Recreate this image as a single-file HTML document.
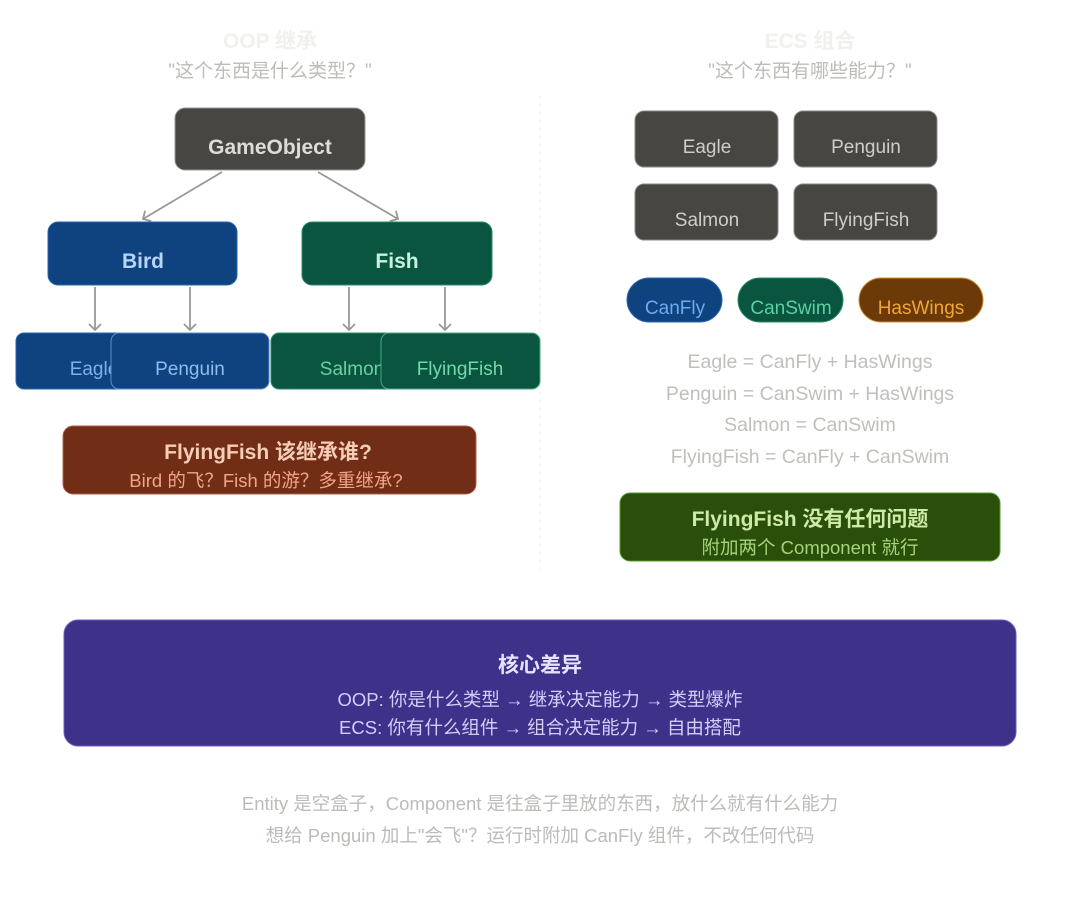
<!DOCTYPE html>
<html><head><meta charset="utf-8"><style>
html,body{margin:0;padding:0;background:#fff;width:1080px;height:921px;overflow:hidden}
svg{display:block}
text{font-family:"Liberation Sans","Noto Sans CJK SC",sans-serif;text-anchor:middle}
</style></head><body>
<svg width="1080" height="921" viewBox="0 0 1080 921">
<defs><marker id="a" markerWidth="14" markerHeight="14" refX="7" refY="7" orient="auto" markerUnits="userSpaceOnUse"><path d="M1,1 L7,7 L1,13" fill="none" stroke="#999893" stroke-width="1.8"/></marker></defs>
<text x="270" y="48" font-size="21" font-weight="bold" fill="#f0f0ec">OOP 继承</text>
<text x="270" y="77" font-size="19" fill="#bdbcb7">"这个东西是什么类型？"</text>
<text x="810" y="48" font-size="21" font-weight="bold" fill="#f0f0ec">ECS 组合</text>
<text x="810" y="77" font-size="19" fill="#bdbcb7">"这个东西有哪些能力？"</text>
<line x1="540" y1="95" x2="540" y2="570" stroke="#f0f0ee" stroke-dasharray="4 4"/>
<rect x="175" y="108" width="190" height="62" rx="10" fill="#474643" stroke="#9a9893"/>
<text x="270" y="154" font-size="21" font-weight="bold" fill="#dddcd6">GameObject</text>
<g stroke="#999893" stroke-width="1.8" fill="none">
<line x1="222" y1="172" x2="143" y2="219" marker-end="url(#a)"/>
<line x1="318" y1="172" x2="398" y2="219" marker-end="url(#a)"/>
<line x1="95" y1="287" x2="95" y2="330" marker-end="url(#a)"/>
<line x1="190" y1="287" x2="190" y2="330" marker-end="url(#a)"/>
<line x1="349" y1="287" x2="349" y2="330" marker-end="url(#a)"/>
<line x1="445" y1="287" x2="445" y2="330" marker-end="url(#a)"/>
</g>
<rect x="48" y="222" width="189" height="63" rx="10" fill="#0e437f" stroke="#2a66b0"/>
<text x="143" y="268" font-size="21" font-weight="bold" fill="#b8d4f6">Bird</text>
<rect x="302" y="222" width="190" height="63" rx="10" fill="#0a5540" stroke="#2a8a68"/>
<text x="397" y="268" font-size="21" font-weight="bold" fill="#c6f2de">Fish</text>
<rect x="16" y="333" width="156" height="56" rx="8" fill="#0e437f" stroke="#2a66b0"/>
<text x="94" y="375" font-size="19" fill="#7fb0ea">Eagle</text>
<rect x="111" y="333" width="158" height="56" rx="8" fill="#0e437f" stroke="#5a8ccc"/>
<text x="190" y="375" font-size="19" fill="#8fbcef">Penguin</text>
<rect x="271" y="333" width="156" height="56" rx="8" fill="#0a5540" stroke="#2a8a68"/>
<text x="352" y="375" font-size="19" fill="#6ad0a2">Salmon</text>
<rect x="381" y="333" width="159" height="56" rx="8" fill="#0a5540" stroke="#4aa880"/>
<text x="460" y="375" font-size="19" fill="#72d8aa">FlyingFish</text>
<rect x="63" y="426" width="413" height="68" rx="10" fill="#722d16" stroke="#b06048"/>
<text x="268" y="459" font-size="21" font-weight="bold" fill="#f6cdb6">FlyingFish 该继承谁?</text>
<text x="266" y="487" font-size="18.5" fill="#f2a488">Bird 的飞？Fish 的游？多重继承?</text>
<g fill="#474643" stroke="#8a8883">
<rect x="635" y="111" width="143" height="56" rx="9"/><rect x="794" y="111" width="143" height="56" rx="9"/>
<rect x="635" y="184" width="143" height="56" rx="9"/><rect x="794" y="184" width="143" height="56" rx="9"/>
</g>
<g font-size="19" fill="#cfcdc8">
<text x="707" y="153">Eagle</text><text x="866" y="153">Penguin</text>
<text x="707" y="226">Salmon</text><text x="866" y="226">FlyingFish</text>
</g>
<rect x="627" y="278" width="95" height="44" rx="22" fill="#0e437f" stroke="#2a66b0"/>
<text x="675" y="314" font-size="19" fill="#6eaaf0">CanFly</text>
<rect x="738" y="278" width="105" height="44" rx="22" fill="#0a5540" stroke="#2a8a68"/>
<text x="791" y="314" font-size="19" fill="#5cd0a2">CanSwim</text>
<rect x="859" y="278" width="124" height="44" rx="22" fill="#6b3a08" stroke="#d08a28"/>
<text x="921" y="314" font-size="19" fill="#f2a634">HasWings</text>
<g font-size="19.5" fill="#c0bfba">
<text x="810" y="368">Eagle = CanFly + HasWings</text>
<text x="810" y="400">Penguin = CanSwim + HasWings</text>
<text x="810" y="431">Salmon = CanSwim</text>
<text x="810" y="463">FlyingFish = CanFly + CanSwim</text>
</g>
<rect x="620" y="493" width="380" height="68" rx="10" fill="#2a4f0a" stroke="#5a9a2a"/>
<text x="810" y="526" font-size="21" font-weight="bold" fill="#cdeaa6">FlyingFish 没有任何问题</text>
<text x="810" y="554" font-size="18.5" fill="#a6d47a">附加两个 Component 就行</text>
<rect x="64" y="620" width="952" height="126" rx="14" fill="#3e318a" stroke="#6a5cc0"/>
<text x="540" y="672" font-size="21" font-weight="bold" fill="#e6e2ff">核心差异</text>
<text x="540" y="706" font-size="18.5" fill="#d4cdfc">OOP: 你是什么类型 → 继承决定能力 → 类型爆炸</text>
<text x="540" y="734" font-size="18.5" fill="#d4cdfc">ECS: 你有什么组件 → 组合决定能力 → 自由搭配</text>
<text x="540" y="810" font-size="18.5" fill="#bcbbb6">Entity 是空盒子，Component 是往盒子里放的东西，放什么就有什么能力</text>
<text x="540" y="842" font-size="18.5" fill="#bcbbb6">想给 Penguin 加上"会飞"？运行时附加 CanFly 组件，不改任何代码</text>
</svg>
</body></html>
